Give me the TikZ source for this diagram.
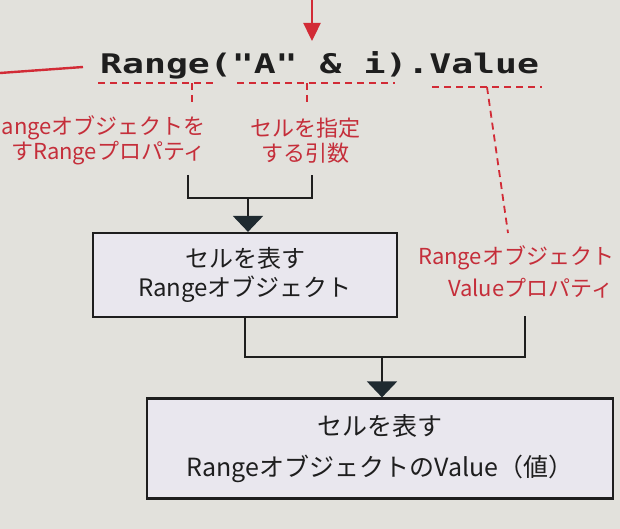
\documentclass[tikz,border=0pt]{standalone}
\usepackage{fontspec}
\setmainfont{Noto Sans CJK JP}
\newfontfamily\codefont{DejaVu Sans Mono}[Ligatures=TeXOff]
\usetikzlibrary{arrows.meta}
\definecolor{bg}{HTML}{E2E1DC}
\definecolor{boxfill}{HTML}{E9E7EE}
\definecolor{redline}{HTML}{D22B36}
\definecolor{redtext}{HTML}{C52E3A}
\definecolor{ink}{HTML}{1E1E1E}
\definecolor{arrowink}{HTML}{1F2A30}
\tikzset{
  flowbox/.style={draw=ink, line width=2.2pt, fill=boxfill, inner sep=0pt, align=center, text=ink},
  conn/.style={draw=ink, line width=2.2pt},
  connarrow/.style={conn, -{Triangle[width=30pt,length=16pt,fill=arrowink,color=arrowink]}},
  reddash/.style={draw=redline, line width=1.8pt, dash pattern=on 7pt off 5pt},
  redsolid/.style={draw=redline, line width=2.4pt},
  redlbl/.style={text=redtext, font=\fontsize{22}{25}\selectfont, inner sep=0pt},
}
\begin{document}
\begin{tikzpicture}[x=1pt,y=-1pt]
\useasboundingbox[fill=bg] (0,0) rectangle (620,529);

% code line
\node[anchor=base west, inner sep=0pt, text=ink] (code) at (100,74)
  {\scalebox{1.35}[1]{\codefont\bfseries\fontsize{27}{30}\selectfont Range("A" \& i).Value}};

% red arrow from top and red line at left
\coordinate (arrowTop) at (312,-5);
\coordinate (arrowTip) at (312,41);
\draw[redsolid, -{Triangle[width=17pt,length=18pt]}] (arrowTop) -- (arrowTip);
\coordinate (lineL) at (0,73);
\coordinate (lineR) at (83,67);
\draw[redsolid] (lineL) -- (lineR);

% dashed underlines
\coordinate (u1a) at (98,83);  \coordinate (u1b) at (213,83);
\coordinate (u1t) at (192,83); \coordinate (u1e) at (192,104);
\coordinate (u2a) at (237,83); \coordinate (u2b) at (395,83);
\coordinate (u2t) at (307,83); \coordinate (u2e) at (307,104);
\coordinate (u3a) at (432,87); \coordinate (u3b) at (542,87);
\coordinate (u3t) at (487,87); \coordinate (u3e) at (508,233);
\draw[reddash] (u1a) -- (u1b);
\draw[reddash] (u1t) -- (u1e);
\draw[reddash] (u2a) -- (u2b);
\draw[reddash] (u2t) -- (u2e);
\draw[reddash] (u3a) -- (u3b);
\draw[reddash] (u3t) -- (u3e);

% red labels
\node[redlbl, anchor=west, align=right] (lblA) at (1.5,140.5) {angeオブジェクトを\\すRangeプロパティ};
\node[redlbl, align=center] (lblB) at (305,140.5) {セルを指定\\する引数};
\node[redlbl, anchor=west] (lblC1) at (418,258) {Rangeオブジェクト};
\node[redlbl, anchor=west] (lblC2) at (448,288) {Valueプロパティ};

% boxes
\node[flowbox, minimum width=304pt, minimum height=84pt, font=\fontsize{24}{29}\selectfont] (box1) at (245,275) {セルを表す\\Rangeオブジェクト};
\node[flowbox, minimum width=466pt, minimum height=100pt, font=\fontsize{25}{41}\selectfont] (box2) at (380,448.5) {セルを表す\\RangeオブジェクトのValue（値）};

% black connectors
\coordinate (b1l) at (188,175);
\coordinate (b1r) at (312,175);
\coordinate (j1) at (248,198);
\draw[conn] (b1l) |- (j1) -| (b1r);
\draw[connarrow] (j1) -- (j1 |- box1.north);

\coordinate (j2) at (382,357);
\coordinate (r2) at (525,316);
\draw[conn] (box1.south) |- (j2) -| (r2);
\draw[connarrow] (j2) -- (j2 |- box2.north);
\end{tikzpicture}
\end{document}
